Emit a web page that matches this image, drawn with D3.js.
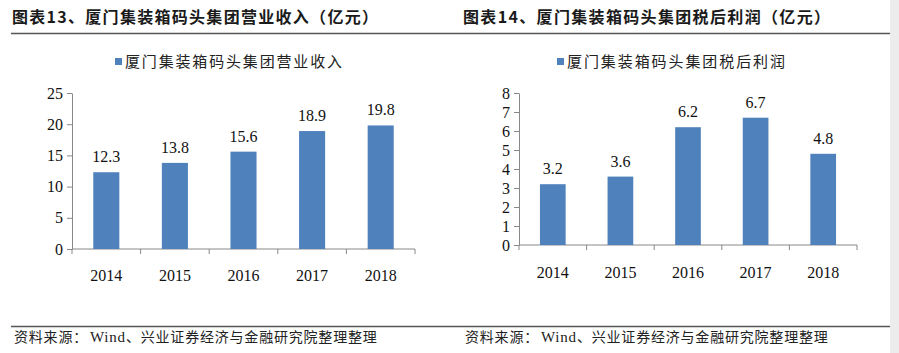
<!DOCTYPE html>
<html>
<head>
<meta charset="utf-8">
<script src="https://cdn.jsdelivr.net/npm/d3@7"></script>
<style>
  body { margin: 0; background: #fff; }
  svg { display: block; }
</style>
</head>
<body>
<div id="main"></div>
<script>
var years = ["2014", "2015", "2016", "2017", "2018"];
var revenue = [12.3, 13.8, 15.6, 18.9, 19.8];
var profit = [3.2, 3.6, 6.2, 6.7, 4.8];
var revenueTicks = [0, 5, 10, 15, 20, 25];
var profitTicks = [0, 1, 2, 3, 4, 5, 6, 7, 8];

var ctx = {
    w: 899,
    h: 353,
    BLUE: "#4f81bd",
    CJK: "'Noto Sans CJK SC', sans-serif",
    SERIF: "'Liberation Serif', 'DejaVu Serif', serif"
};

var panels = [
    {x0: 0, ruleX1: 11, ruleX2: 450, titleX: 12,
     title: "图表13、厦门集装箱码头集团营业收入（亿元）", titleLen: 366,
     legend: "厦门集装箱码头集团营业收入", legendX: 125, legendLen: 217,
     values: revenue, ticks: revenueTicks, yMax: 25, xPad: 21,
     plot: {left: 72, right: 415, top: 93, bottom: 249}},
    {x0: 450, ruleX1: 450, ruleX2: 890, titleX: 463,
     title: "图表14、厦门集装箱码头集团税后利润（亿元）", titleLen: 367,
     legend: "厦门集装箱码头集团税后利润", legendX: 567, legendLen: 218,
     values: profit, ticks: profitTicks, yMax: 8, xPad: 22,
     plot: {left: 519, right: 857, top: 93, bottom: 245}}
];

var drawPanel = function(svg, p){
    var g = svg.append("g");
    // title + rule
    g.append("text")
        .attr("x", p.titleX)
        .attr("y", 23)
        .attr("textLength", p.titleLen)
        .style("font-family", ctx.CJK)
        .style("font-weight", "bold")
        .style("font-size", "16px")
        .style("fill", "#1a1a1a")
        .text(p.title);
    g.append("line")
        .attr("x1", p.ruleX1).attr("x2", p.ruleX2)
        .attr("y1", 33.5).attr("y2", 33.5)
        .style("stroke", "#555").style("stroke-width", 1.5);
    // legend
    g.append("rect")
        .attr("x", p.legendX - 10).attr("y", 58)
        .attr("width", 7).attr("height", 7)
        .style("fill", ctx.BLUE);
    g.append("text")
        .attr("x", p.legendX)
        .attr("y", 67)
        .attr("textLength", p.legendLen)
        .style("font-family", ctx.CJK)
        .style("font-size", "15px")
        .style("fill", "#222")
        .text(p.legend);

    var xScale = d3.scaleBand().domain(years)
        .range([p.plot.left, p.plot.right])
        .paddingInner(0.62).paddingOuter(0.31);
    var yScale = d3.scaleLinear().domain([0, p.yMax])
        .range([p.plot.bottom, p.plot.top]);

    // axes
    var xAxis = g.append("g")
        .attr("transform", "translate(0," + p.plot.bottom + ")")
        .call(d3.axisBottom(d3.scaleBand().domain(years).range([p.plot.left, p.plot.right]))
            .tickSize(0).tickPadding(p.xPad));
    xAxis.select(".domain").remove();
    xAxis.selectAll("text")
        .style("font-family", ctx.SERIF)
        .style("font-size", "16px")
        .style("fill", "#111");
    // category separator ticks
    var bounds = d3.range(years.length + 1).map(function(i){
        return p.plot.left + i * (p.plot.right - p.plot.left) / years.length;
    });
    g.selectAll(".xt").data(bounds).enter().append("line")
        .attr("x1", function(d){ return d; }).attr("x2", function(d){ return d; })
        .attr("y1", p.plot.bottom).attr("y2", p.plot.bottom + 5)
        .style("stroke", "#888");
    g.append("line")
        .attr("x1", p.plot.left).attr("x2", p.plot.right)
        .attr("y1", p.plot.bottom).attr("y2", p.plot.bottom)
        .style("stroke", "#888");

    var yAxis = g.append("g")
        .attr("transform", "translate(" + p.plot.left + ",0)")
        .call(d3.axisLeft(yScale).tickValues(p.ticks).tickSize(5).tickPadding(4).tickSizeOuter(0));
    yAxis.selectAll("line, path").style("stroke", "#888");
    yAxis.selectAll("text")
        .style("font-family", ctx.SERIF)
        .style("font-size", "16px")
        .style("fill", "#111");

    // bars
    g.selectAll(".bar").data(p.values).enter().append("rect")
        .attr("x", function(d, i){ return xScale(years[i]); })
        .attr("y", function(d){ return yScale(d); })
        .attr("width", xScale.bandwidth())
        .attr("height", function(d){ return yScale(0) - yScale(d); })
        .style("fill", ctx.BLUE);
    g.selectAll(".lbl").data(p.values).enter().append("text")
        .attr("x", function(d, i){ return xScale(years[i]) + xScale.bandwidth() / 2; })
        .attr("y", function(d){ return yScale(d) - 10; })
        .style("text-anchor", "middle")
        .style("font-family", ctx.SERIF)
        .style("font-size", "16px")
        .style("fill", "#111")
        .text(function(d){ return d.toFixed(1); });

    // source
    g.append("line")
        .attr("x1", p.ruleX1).attr("x2", p.ruleX2)
        .attr("y1", 326.5).attr("y2", 326.5)
        .style("stroke", "#555").style("stroke-width", 1.5);
    var src = g.append("text")
        .attr("x", p.titleX + 2)
        .attr("y", 342)
        .style("font-family", ctx.CJK)
        .style("font-size", "14px")
        .style("fill", "#222");
    src.append("tspan").text("资料来源：");
    src.append("tspan").attr("dx", 2)
        .style("font-family", ctx.SERIF).style("font-size", "15px").text("Wind");
    src.append("tspan").text("、兴业证券经济与金融研究院整理整理");
    // stretch to reference width
    var bw = src.node().getComputedTextLength();
    src.style("letter-spacing", ((360 - bw) / 24).toFixed(2) + "px");
};

var svg = d3.select("#main").append("svg")
    .attr("width", ctx.w).attr("height", ctx.h);
svg.append("rect").attr("x", 890).attr("y", 0)
    .attr("width", 9).attr("height", ctx.h)
    .style("fill", "#ececec");
panels.forEach(function(p){ drawPanel(svg, p); });
</script>
</body>
</html>
